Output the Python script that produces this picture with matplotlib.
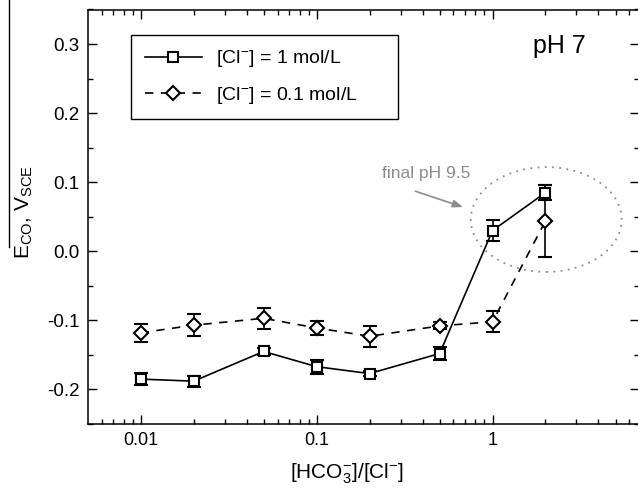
import numpy as np
import matplotlib
matplotlib.use("Agg")
import matplotlib.pyplot as plt
from matplotlib.patches import Ellipse
from matplotlib.lines import Line2D
from matplotlib.ticker import LogLocator, MultipleLocator, FuncFormatter

plt.rcParams['font.family'] = ['Liberation Sans', 'DejaVu Sans']
plt.rcParams['mathtext.fontset'] = 'custom'
plt.rcParams['mathtext.rm'] = 'Liberation Sans'
plt.rcParams['mathtext.default'] = 'regular'
plt.rcParams['axes.unicode_minus'] = False

# [HCO3-]/[Cl-] ratios
ratio = [0.01, 0.02, 0.05, 0.1, 0.2, 0.5, 1, 2]

# [Cl-] = 1 mol/L
e_cl1 = [-0.185, -0.188, -0.145, -0.167, -0.177, -0.148, 0.030, 0.085]
err_cl1 = [0.009, 0.008, 0.005, 0.010, 0.004, 0.010, 0.015, 0.011]

# [Cl-] = 0.1 mol/L
e_cl01 = [-0.118, -0.107, -0.097, -0.111, -0.123, -0.108, -0.102, 0.044]
err_cl01 = [0.013, 0.016, 0.015, 0.010, 0.015, 0.005, 0.015, 0.052]

labels = ['[Cl$^{-}$] = 1 mol/L', '[Cl$^{-}$] = 0.1 mol/L']

fig = plt.figure(figsize=(6.38, 4.88), dpi=100)
ax = fig.add_axes([88 / 638, 64 / 488, 551 / 638, 414.5 / 488])

eb1 = ax.errorbar(ratio, e_cl1, yerr=err_cl1, color='k', lw=1.2, marker='s', ms=7.5,
                  mfc='white', mec='k', mew=1.5, capsize=5, capthick=1.3, elinewidth=1.2)
eb2 = ax.errorbar(ratio, e_cl01, yerr=err_cl01, color='k', lw=1.2, ls=(0, (5, 4.5)),
                  marker='D', ms=7.5, mfc='white', mec='k', mew=1.5, capsize=5,
                  capthick=1.3, elinewidth=1.2)

ax.set_xscale('log')
ax.set_xlim(0.00502, 6.8)
ax.set_ylim(-0.25, 0.35)

ax.xaxis.set_major_locator(LogLocator(base=10, numticks=10))
ax.xaxis.set_minor_locator(LogLocator(base=10, subs=np.arange(2, 10), numticks=20))
ax.xaxis.set_major_formatter(FuncFormatter(lambda v, p: '%g' % v))
ax.yaxis.set_major_locator(MultipleLocator(0.1))
ax.yaxis.set_minor_locator(MultipleLocator(0.05))
ax.yaxis.set_major_formatter(FuncFormatter(lambda v, p: '%.1f' % v))

ax.tick_params(which='both', direction='in', top=True, right=True, width=1.0)
ax.tick_params(axis='x', labelsize=13)
ax.tick_params(axis='y', labelsize=13.5)
ax.tick_params(which='major', length=6.5, pad=6)
ax.tick_params(which='minor', length=3.5)
for s in ax.spines.values():
    s.set_linewidth(1.1)

ax.set_xlabel('[HCO$_3^{-}$]/[Cl$^{-}$]', fontsize=15)
ax.xaxis.set_label_coords(0.471, -0.09)
ax.set_ylabel('E$_{CO}$, V$_{SCE}$', fontsize=15)
ax.yaxis.set_label_coords(-0.096, 0.511)

leg = ax.legend([eb1[0], eb2[0]], labels, loc='upper left',
                bbox_to_anchor=(0.078, 0.736, 0.4846, 0.203), mode='expand',
                borderaxespad=0, fontsize=14, handlelength=2.95, handletextpad=0.72,
                labelspacing=0.79, borderpad=0.7, fancybox=False, framealpha=1,
                edgecolor='k', numpoints=1)
leg.get_frame().set_linewidth(1.0)

ax.text(0.808, 0.895, 'pH 7', transform=ax.transAxes, fontsize=18, va='baseline', ha='left')

# dotted ellipse around the final points
cx, cy = ax.transAxes.inverted().transform(ax.transData.transform((2.02, 0.046)))
ax.add_patch(Ellipse((cx, cy), 0.274, 0.253, transform=ax.transAxes, fill=False,
                     ec='#8c8c8c', lw=1.3, ls=(0, (1, 3))))

ax.text(0.417, 0.112, 'final pH 9.5', color='#8c8c8c', fontsize=12.5, ha='center', va='center')
ax.annotate('', xy=(0.68, 0.064), xytext=(0.364, 0.087),
            arrowprops=dict(arrowstyle='-|>,head_length=0.6,head_width=0.22',
                            color='#8c8c8c', lw=1.2, shrinkA=0, shrinkB=0))

fig.add_artist(Line2D([9 / 638, 9 / 638], [1, 1 - 247 / 488], transform=fig.transFigure,
                      color='k', lw=1.0))

fig.savefig('out.png', dpi=100)
